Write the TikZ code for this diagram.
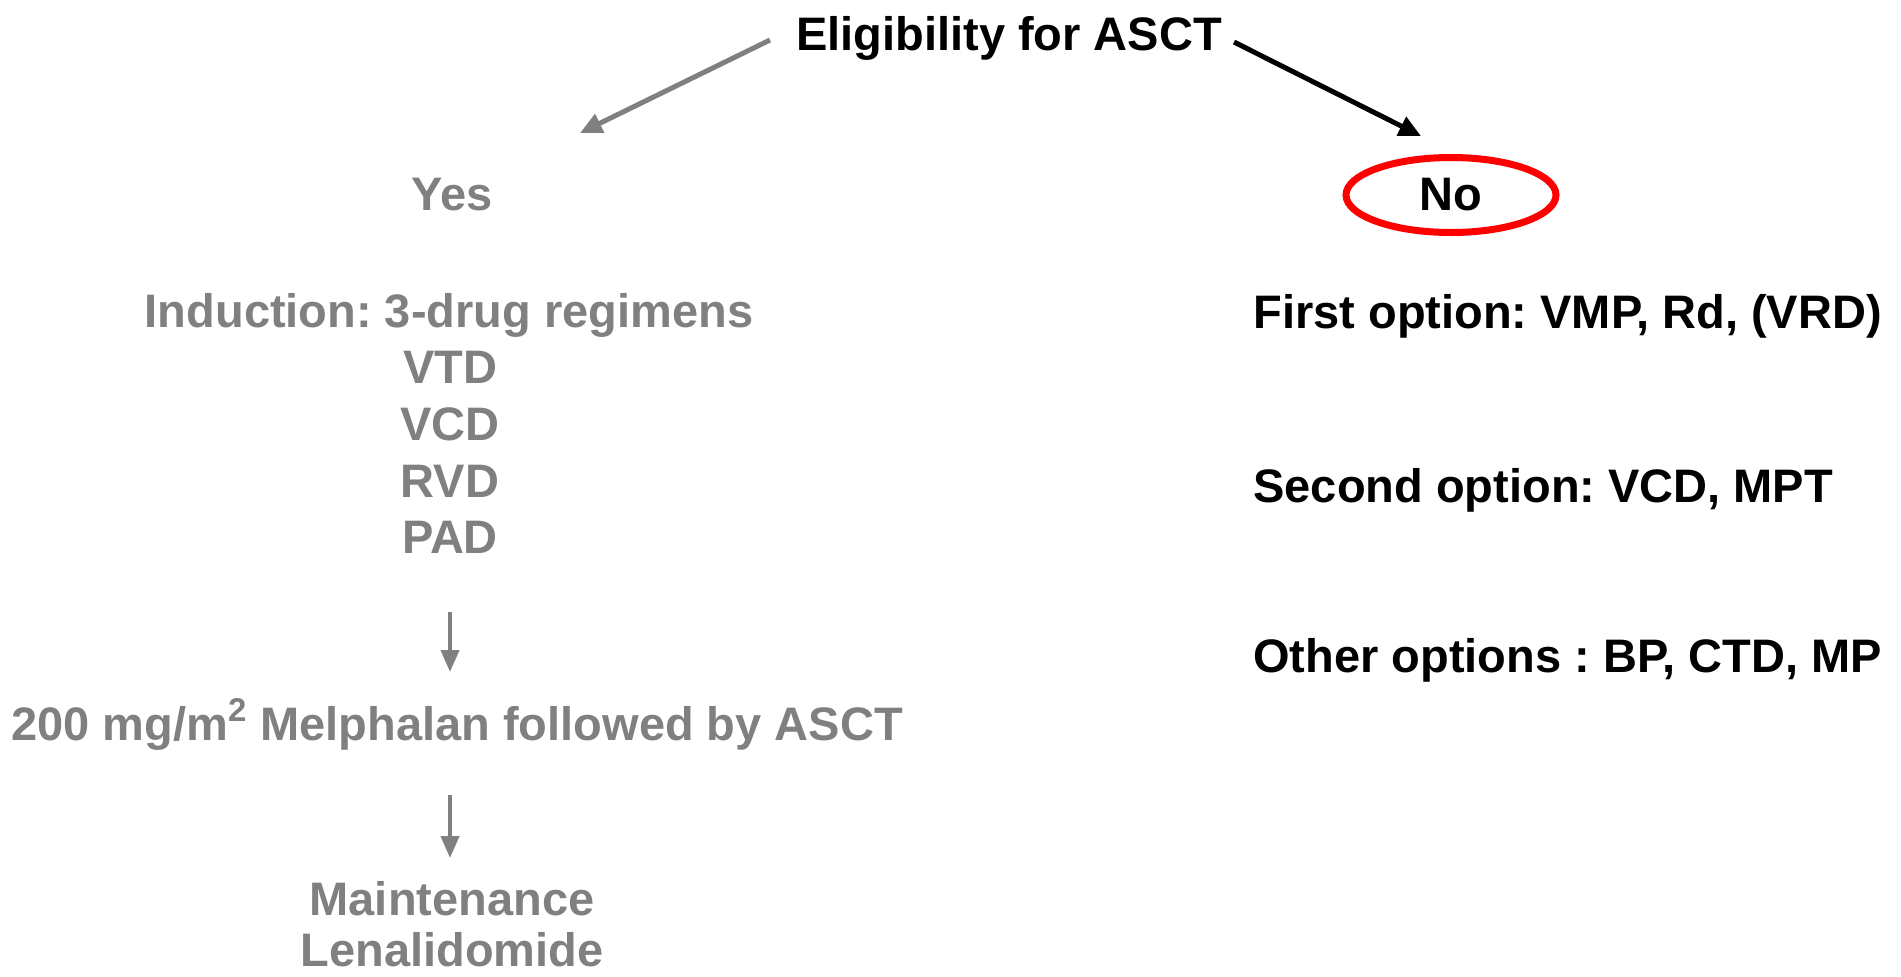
\documentclass[tikz,border=0pt]{standalone}
\usepackage{fontspec}
\setmainfont{Liberation Sans}
\usetikzlibrary{arrows.meta,shapes.geometric}
\definecolor{txtgray}{HTML}{808080}
\definecolor{ringred}{HTML}{FF0000}
\frenchspacing
\begin{document}
\begin{tikzpicture}[x=0.5pt,y=-0.5pt,
  lbl/.style={font=\fontsize{23.5}{28}\selectfont\bfseries, inner sep=0pt, anchor=base},
  graytxt/.style={lbl, text=txtgray},
  blktxt/.style={lbl, text=black},
  rightopt/.style={lbl, text=black, anchor=base west},
  garrow/.style={draw=txtgray, line width=2.5pt, -{Triangle[length=11pt,width=10pt]}},
  barrow/.style={draw=black, line width=2.5pt, -{Triangle[length=11pt,width=10pt]}},
  varrow/.style={draw=txtgray, line width=2pt, -{Triangle[length=11pt,width=9pt]}}
]
\useasboundingbox (0,0) rectangle (1901,976);

% title
\node[blktxt] (title) at (1009,50) {Eligibility for ASCT};

% branch labels
\node[graytxt] (yes) at (452,210) {Yes};
\node[ellipse, draw=ringred, line width=3.5pt, minimum width=105pt, minimum height=37.5pt,
      inner sep=0pt, font=\fontsize{23.5}{28}\selectfont\bfseries, text=black] (no) at (1451,195) {No};

% left column
\node[graytxt] (ind) at (449,327) {Induction: 3-drug regimens};
\node[graytxt] (vtd) at (450,383) {VTD};
\node[graytxt] (vcd) at (450,440) {VCD};
\node[graytxt] (rvd) at (450,497) {RVD};
\node[graytxt] (pad) at (450,553) {PAD};
\node[graytxt] (mel) at (457,740) {200 mg/m\textsuperscript{2} Melphalan followed by ASCT};
\node[graytxt] (maint) at (452,915) {Maintenance};
\node[graytxt] (lena) at (452,966) {Lenalidomide};

% right column
\node[rightopt] (first) at (1253,328) {First option: VMP, Rd, (VRD)};
\node[rightopt] (second) at (1253,502) {Second option: VCD, MPT};
\node[rightopt] (other) at (1253,672) {Other options : BP, CTD, MP};

% connectors
\coordinate (g1) at (770,40);
\coordinate (g2) at (580,133);
\coordinate (b1) at (1234,42);
\coordinate (b2) at (1421,136);
\coordinate (v1s) at (450,612);
\coordinate (v1e) at (450,672);
\coordinate (v2s) at (450,795);
\coordinate (v2e) at (450,858);
\draw[garrow] (g1) -- (g2);
\draw[barrow] (b1) -- (b2);
\draw[varrow] (v1s) -- (v1e);
\draw[varrow] (v2s) -- (v2e);
\end{tikzpicture}
\end{document}
